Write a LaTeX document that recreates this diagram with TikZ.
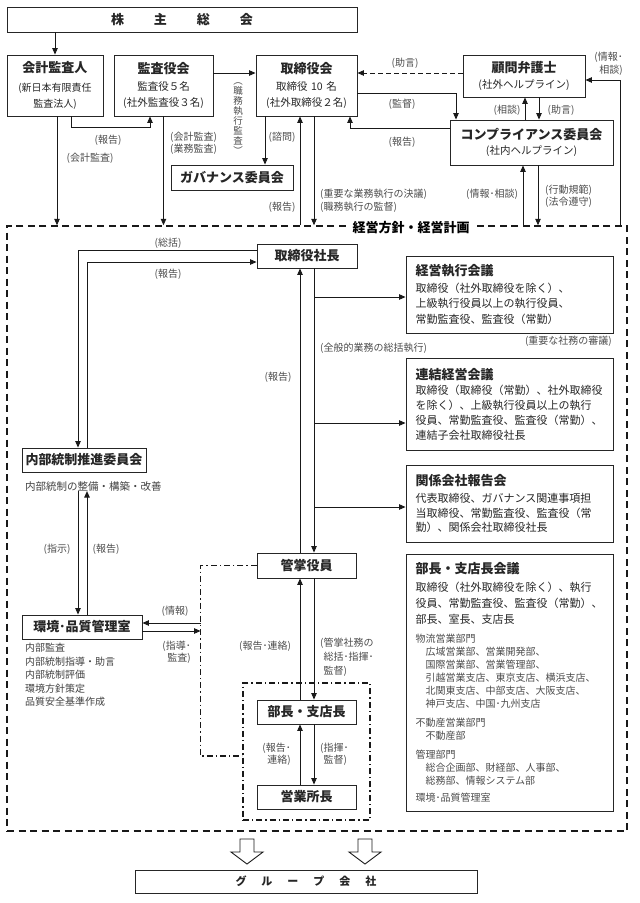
\documentclass[tikz,border=0pt]{standalone}
\usepackage{fontspec}
\setmainfont{Noto Sans CJK JP}
\usetikzlibrary{arrows.meta}
\setlength{\parindent}{0pt}
\newcommand\jtitle{\bfseries\fontsize{13}{15}\selectfont}
\newcommand\jlabel{\fontsize{10}{12}\selectfont}
\begin{document}
\begin{tikzpicture}[x=1pt,y=-1pt,
  box/.style={draw=black!85, line width=0.9pt, fill=white, inner sep=0pt, align=center, text=black!85},
  tbox/.style={box, font=\jtitle},
  mbox/.style={box, align=left, text width=188pt, inner xsep=9.5pt, inner ysep=0pt, minimum width=207pt},
  arr/.style={-{Triangle[length=6.5pt,width=5.5pt]}, line width=0.9pt, draw=black!90},
  lbl/.style={font=\jlabel, text=black!70, inner sep=0pt},
  dd/.style={line width=1.3pt, dash pattern=on 6pt off 3pt on 1.3pt off 3pt},
]
\useasboundingbox (0,0) rectangle (640,903);

% frames
\node[draw=black!90, line width=1.5pt, dash pattern=on 7pt off 4.5pt, minimum width=620pt, minimum height=605pt, inner sep=0pt] (keiei) at (317,528.5) {};
\node[draw=black!90, dd, minimum width=127pt, minimum height=137pt, inner sep=0pt] (inner) at (306.5,751.5) {};

% top boxes
\node[tbox, minimum width=350pt, minimum height=25pt] (sh) at (182,19.5) {株\hspace{30pt}主\hspace{30pt}総\hspace{30pt}会};
\node[box, minimum width=96pt, minimum height=61pt, text width=94pt, font=\fontsize{10}{16}\selectfont] (kk) at (55,85.5) {{\jtitle 会計監査人}\\[2.5pt](新日本有限責任\\監査法人)};
\node[box, minimum width=99pt, minimum height=61pt, text width=97pt, font=\fontsize{10.5}{16.5}\selectfont] (ka) at (163.5,85.5) {{\jtitle 監査役会}\\監査役５名\\(社外監査役３名)};
\node[box, minimum width=101pt, minimum height=61pt, text width=99pt, font=\fontsize{10.5}{16.5}\selectfont] (tk) at (306.5,85.5) {{\jtitle 取締役会}\\取締役 10 名\\(社外取締役２名)};
\node[tbox, minimum width=122pt, minimum height=25pt] (gv) at (232,177.5) {ガバナンス委員会};
\node[box, minimum width=122pt, minimum height=42pt, text width=120pt, font=\fontsize{10.5}{15.5}\selectfont] (km) at (524,76) {{\jtitle 顧問弁護士}\\(社外ヘルプライン)};
\node[box, minimum width=163pt, minimum height=45pt, text width=161pt, font=\fontsize{10.5}{15.5}\selectfont] (cp) at (531.5,142.5) {{\jtitle コンプライアンス委員会}\\(社内ヘルプライン)};

% inner boxes
\node[tbox, minimum width=100pt, minimum height=24pt] (ps) at (307,256) {取締役社長};
\node[tbox, minimum width=124pt, minimum height=24pt] (ne) at (84,460) {内部統制推進委員会};
\node[font=\fontsize{10.5}{13}\selectfont, text=black!75, inner sep=0pt, anchor=west] (nedesc) at (25,486) {内部統制の整備・構築・改善};
\node[tbox, minimum width=120pt, minimum height=24pt] (kq) at (82,627) {環境･品質管理室};
\node[font=\fontsize{10}{13.5}\selectfont, text=black!75, inner sep=0pt, anchor=north west, align=left] (kqdesc) at (25,643) {内部監査\\内部統制指導・助言\\内部統制評価\\環境方針策定\\品質安全基準作成};
\node[tbox, minimum width=99pt, minimum height=25pt] (ky) at (306.5,565.5) {管掌役員};
\node[tbox, minimum width=99pt, minimum height=24pt] (bs) at (306.5,712) {部長・支店長};
\node[tbox, minimum width=99pt, minimum height=24pt] (es) at (306.5,797) {営業所長};

\node[mbox, minimum height=77pt, font=\fontsize{11}{15.5}\selectfont] (m1) at (509.5,294.5) {{\jtitle 経営執行会議}\\[1pt]取締役（社外取締役を除く）、\\上級執行役員以上の執行役員、\\常勤監査役、監査役（常勤）};
\node[mbox, minimum height=92pt, font=\fontsize{11}{15}\selectfont] (m2) at (509.5,404) {{\jtitle 連結経営会議}\\取締役（取締役（常勤）、社外取締役\\を除く）、上級執行役員以上の執行\\役員、常勤監査役、監査役（常勤）、\\連結子会社取締役社長};
\node[mbox, minimum height=77pt, font=\fontsize{11}{14.7}\selectfont] (m3) at (509.5,503.5) {{\jtitle 関係会社報告会}\\[2.5pt]代表取締役、ガバナンス関連事項担\\当取締役、常勤監査役、監査役（常\\勤）、関係会社取締役社長};
\node[mbox, minimum height=257pt, font=\fontsize{11}{16}\selectfont] (m4) at (509.5,682.5) {{\jtitle 部長・支店長会議\par}\vspace{1.5pt}%
{\fontsize{11}{16}\selectfont 取締役（社外取締役を除く）、執行\\役員、常勤監査役、監査役（常勤）、\\部長、室長、支店長\par}\vspace{6.5pt}%
{\fontsize{10}{13}\selectfont\color{black!70}物流営業部門\\\hspace*{1em}広域営業部、営業開発部、\\\hspace*{1em}国際営業部、営業管理部、\\\hspace*{1em}引越営業支店、東京支店、横浜支店、\\\hspace*{1em}北関東支店、中部支店、大阪支店、\\\hspace*{1em}神戸支店、中国･九州支店\par}\vspace{6pt}%
{\fontsize{10}{13}\selectfont\color{black!70}不動産営業部門\\\hspace*{1em}不動産部\par}\vspace{6pt}%
{\fontsize{10}{13}\selectfont\color{black!70}管理部門\\\hspace*{1em}総合企画部、財経部、人事部、\\\hspace*{1em}総務部、情報システム部\par}\vspace{4pt}%
{\fontsize{10}{13}\selectfont\color{black!70}環境･品質管理室\par}};

\node[tbox, minimum width=342pt, minimum height=23pt, font=\bfseries\fontsize{11}{13}\selectfont] (grp) at (306,881.5) {グ\hspace{15pt}ル\hspace{15pt}ー\hspace{15pt}プ\hspace{15pt}会\hspace{15pt}社};

% connectors, top
\draw[arr] (kk.north |- sh.south) -- (kk.north);
\draw[arr] ([xshift=16pt]kk.south) -- ++(0,11) -| ([xshift=-13.5pt]ka.south);
\draw[arr] ([xshift=2pt]kk.south) -- ([xshift=2pt]kk.south |- keiei.north);
\draw[arr] (ka.south) -- (ka.south |- keiei.north);
\draw[arr] ([yshift=12.5pt]ka.east) -- ([yshift=12.5pt]tk.west);
\draw[arr] ([xshift=-41.5pt]tk.south) -- ([xshift=-41.5pt]tk.south |- gv.north);
\draw[arr] ([xshift=-6.5pt]tk.south |- keiei.north) -- ([xshift=-6.5pt]tk.south);
\draw[arr] ([xshift=7.5pt]tk.south) -- ([xshift=7.5pt]tk.south |- keiei.north);
\draw[arr, dash pattern=on 5pt off 3pt] ([yshift=3pt]km.west) -- ([yshift=12.5pt]tk.east);
\draw[arr] ([yshift=-7.5pt]tk.east) -| ([xshift=-75.5pt]cp.north);
\draw[arr] ([yshift=14.5pt]cp.west) -| ([xshift=43.5pt]tk.south);
\draw[arr] ([xshift=-6.5pt]cp.north) -- ([xshift=-6.5pt]cp.north |- km.south);
\draw[arr] ([xshift=7.5pt]cp.north |- km.south) -- ([xshift=7.5pt]cp.north);
\draw[arr] ([xshift=-8.5pt]cp.south |- keiei.north) -- ([xshift=-8.5pt]cp.south);
\draw[arr] ([xshift=6.5pt]cp.south) -- ([xshift=6.5pt]cp.south |- keiei.north);
\draw[arr] ([xshift=-7pt]keiei.north east) |- ([yshift=-4pt]km.east);

% connectors, inside
\draw[arr] ([yshift=6pt]ps.west) -| ([xshift=-6pt]ne.north);
\draw[arr] ([xshift=3pt]ne.north) |- ([yshift=-6pt]ps.west);
\draw[arr] ([xshift=-6pt]ne.south |- nedesc.south) -- ([xshift=-6pt]ne.south |- kq.north);
\draw[arr] ([xshift=3pt]ne.south |- kq.north) -- ([xshift=3pt]ne.south |- nedesc.south);
\draw[arr] ([xshift=7pt]ps.south) -- ([xshift=7pt]ps.south |- ky.north);
\draw[arr] ([xshift=-7pt]ps.south |- ky.north) -- ([xshift=-7pt]ps.south);
\draw[arr] ([xshift=7pt,yshift=-2.5pt]ps.south |- m1.west) -- ([yshift=-2.5pt]m1.west);
\draw[arr] ([xshift=7pt,yshift=-19pt]ps.south |- m2.west) -- ([yshift=-19pt]m2.west);
\draw[arr] ([xshift=7pt,yshift=-3.5pt]ps.south |- m3.west) -- ([yshift=-3.5pt]m3.west);
\draw[arr] ([xshift=7.5pt]ky.south) -- ([xshift=7.5pt]ky.south |- bs.north);
\draw[arr] ([xshift=-6.5pt]ky.south |- bs.north) -- ([xshift=-6.5pt]ky.south);
\draw[arr] ([xshift=7.5pt]bs.south) -- ([xshift=7.5pt]bs.south |- es.north);
\draw[arr] ([xshift=-6.5pt]bs.south |- es.north) -- ([xshift=-6.5pt]bs.south);
\draw[dd, draw=black!90] (ky.west) -- ++(-56,0) coordinate (dx) |- ([yshift=-4.5pt]inner.west);
\draw[arr] ([yshift=4pt]kq.east -| dx) -- ([yshift=4pt]kq.east);
\draw[arr] ([yshift=-4pt]kq.east) -- ([yshift=-4pt]kq.east -| dx);

% hollow arrows
\foreach \x in {247,365}
  \draw[line width=0.9pt, draw=black!90, fill=white] (\x-7,839) -- (\x+7,839) -- (\x+7,852) -- (\x+16,852) -- (\x,864) -- (\x-16,852) -- (\x-7,852) -- cycle;

% frame title
\node[font=\bfseries\fontsize{13}{15}\selectfont, fill=white, inner xsep=6pt, inner ysep=1pt] (kt) at (411,228) {経営方針・経営計画};

% labels
\node[lbl] (l1) at (108,140) {(報告)};
\node[lbl] (l2) at (90,158) {(会計監査)};
\node[lbl, align=left, anchor=west, font=\fontsize{10}{12}\selectfont] (l3) at (170,143) {(会計監査)\\(業務監査)};
\node[lbl, align=center, font=\fontsize{9.5}{10}\selectfont] (vt) at (238,119) {︵\\職\\務\\執\\行\\監\\査\\︶};
\node[lbl] (l4) at (282,137) {(諮問)};
\node[lbl] (l5) at (282,207) {(報告)};
\node[lbl, align=left, anchor=west, font=\fontsize{10}{13}\selectfont] (l6) at (320,200.5) {(重要な業務執行の決議)\\(職務執行の監督)};
\node[lbl] (l7) at (405,63) {(助言)};
\node[lbl] (l8) at (402,104) {(監督)};
\node[lbl] (l9) at (402,142) {(報告)};
\node[lbl] (l10) at (507,110) {(相談)};
\node[lbl] (l11) at (561,110) {(助言)};
\node[lbl] (l12) at (492,194) {(情報･相談)};
\node[lbl, align=left, anchor=west, font=\fontsize{10}{12}\selectfont] (l13) at (545,196) {(行動規範)\\(法令遵守)};
\node[lbl, align=right, anchor=east, font=\fontsize{10}{13}\selectfont] (l14) at (623,63.5) {(情報･\\相談)};
\node[lbl] (l15) at (168,243) {(総括)};
\node[lbl] (l16) at (168,274) {(報告)};
\node[lbl] (l17) at (278,377) {(報告)};
\node[lbl, anchor=west] (l18) at (320,348) {(全般的業務の総括執行)};
\node[lbl, anchor=east] (l19) at (612,341) {(重要な社務の審議)};
\node[lbl] (l20) at (57,549) {(指示)};
\node[lbl] (l21) at (106,549) {(報告)};
\node[lbl] (l22) at (175,611) {(情報)};
\node[lbl, align=right, anchor=east, font=\fontsize{10}{12}\selectfont] (l23) at (191,652) {(指導･\\監査)};
\node[lbl] (l24) at (265,646) {(報告･連絡)};
\node[lbl, align=left, anchor=west, font=\fontsize{10}{14}\selectfont] (l25) at (320,657) {(管掌社務の\\\hspace*{0.33em}総括･指揮･\\\hspace*{0.33em}監督)};
\node[lbl, align=right, anchor=east, font=\fontsize{10}{12}\selectfont] (l26) at (291,754) {(報告･\\連絡)};
\node[lbl, align=left, anchor=west, font=\fontsize{10}{12}\selectfont] (l27) at (320,754) {(指揮･\\\hspace*{0.33em}監督)};
\end{tikzpicture}
\end{document}
